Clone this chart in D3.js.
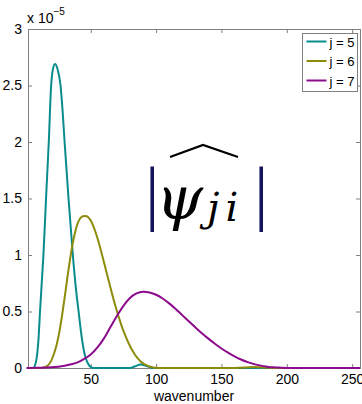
<!DOCTYPE html>
<html>
<head>
<meta charset="utf-8">
<script src="https://cdn.jsdelivr.net/npm/d3@7"></script>
<style>
  body { margin: 0; background: #fff; }
  svg { display: block; }
</style>
</head>
<body>
<div id="container"></div>
<script>
// wavenumber / value pairs (values in units of 1e-5)
const j5X = [1, 6, 8, 10, 11.2, 12.5, 13.8, 15.8, 17.9, 19.7, 21, 22.7, 24.5, 26.9, 28.5, 30, 33, 36.3, 38.5, 40.7, 43, 45, 47, 49, 52, 80, 84, 88, 92, 96, 100, 256];
const j5Y = [0, 0, 0.05, 0.25, 0.5, 0.75, 1.0, 1.5, 2.0, 2.5, 2.64, 2.69, 2.65, 2.5, 2.27, 2.0, 1.5, 1.0, 0.72, 0.5, 0.28, 0.14, 0.06, 0.02, 0, 0, 0.015, 0.03, 0.02, 0.005, 0, 0];

const j6X = [1, 10, 14, 17, 20, 22, 24, 26, 28, 30, 32, 34, 36, 38, 40, 42, 44, 46, 48, 50, 52, 54, 56, 58, 60, 62, 64, 66, 68, 70, 72, 74, 76, 78, 80, 82, 84, 86, 88, 90, 92, 94, 96, 98, 100, 104, 160, 175, 190, 256];
const j6Y = [0, 0, 0.005, 0.02, 0.07, 0.13, 0.21, 0.32, 0.46, 0.62, 0.79, 0.95, 1.09, 1.2, 1.28, 1.325, 1.343, 1.345, 1.335, 1.305, 1.255, 1.19, 1.115, 1.03, 0.94, 0.85, 0.76, 0.67, 0.585, 0.505, 0.43, 0.36, 0.3, 0.245, 0.195, 0.152, 0.115, 0.085, 0.06, 0.041, 0.027, 0.017, 0.01, 0.005, 0.002, 0, 0, 0.008, 0, 0];

const j7X = [1, 10, 20, 30, 35, 40, 45, 50, 55, 60, 65, 70, 75, 80, 85, 90, 95, 100, 105, 110, 115, 120, 125, 130, 135, 140, 145, 150, 155, 160, 165, 170, 175, 180, 185, 190, 195, 200, 256];
const j7Y = [0, 0.002, 0.006, 0.02, 0.033, 0.05, 0.08, 0.12, 0.18, 0.26, 0.36, 0.46, 0.55, 0.62, 0.66, 0.675, 0.668, 0.648, 0.615, 0.572, 0.522, 0.468, 0.414, 0.36, 0.308, 0.26, 0.215, 0.173, 0.136, 0.103, 0.075, 0.052, 0.034, 0.021, 0.012, 0.006, 0.003, 0.001, 0];

const seriesNames = ["j = 5", "j = 6", "j = 7"];
const seriesColors = ["#0a8c8c", "#8c8c0a", "#8c0a8c"];
const xTicks = [50, 100, 150, 200, 250];
const yTicks = [0, 0.5, 1, 1.5, 2, 2.5, 3];

const W = 362, H = 404;
const margin = { left: 28, right: 2, top: 29, bottom: 36 };

const x = d3.scaleLinear().domain([2, 256]).range([margin.left, W - margin.right]);
const y = d3.scaleLinear().domain([0, 3]).range([H - margin.bottom, margin.top]);

const svg = d3.select("#container").append("svg")
    .attr("width", W)
    .attr("height", H)
    .style("font-family", "'Liberation Sans', Arial, sans-serif");

const axisColor = "#808080";
const tickLen = 4;

// bottom axis, ticks pointing inward
const gx = svg.append("g")
    .attr("transform", `translate(0,${y(0)})`)
    .call(d3.axisBottom(x).tickValues(xTicks).tickSize(-tickLen).tickPadding(6));
// left axis
const gy = svg.append("g")
    .attr("transform", `translate(${x.range()[0]},0)`)
    .call(d3.axisLeft(y).tickValues(yTicks).tickSize(-tickLen).tickPadding(6)
        .tickFormat(d => d === 0 ? "0" : d3.format("")(d)));
// top and right mirrors
const gt = svg.append("g")
    .attr("transform", `translate(0,${y(3)})`)
    .call(d3.axisTop(x).tickValues(xTicks).tickSize(-tickLen).tickFormat(""));
const gr = svg.append("g")
    .attr("transform", `translate(${x.range()[1]},0)`)
    .call(d3.axisRight(y).tickValues(yTicks).tickSize(-tickLen).tickFormat(""));

[gx, gy, gt, gr].forEach(g => {
  g.select(".domain").attr("stroke", axisColor);
  g.selectAll(".tick line").attr("stroke", axisColor);
  g.selectAll(".tick text").attr("fill", "#000").attr("font-size", 14)
   .attr("font-family", "'Liberation Sans', Arial, sans-serif");
});

// exponent label
const expo = svg.append("text")
    .attr("x", 27).attr("y", 23)
    .attr("font-size", 14)
    .text("x 10");
expo.append("tspan").attr("dy", -8).attr("font-size", 10).text("\u22125");

// x label
svg.append("text")
    .attr("x", (x.range()[0] + x.range()[1]) / 2)
    .attr("y", 401)
    .attr("text-anchor", "middle")
    .attr("font-size", 14)
    .text("wavenumber");

// curves
const line = d3.line()
    .x(d => x(d[0]))
    .y(d => y(d[1]))
    .curve(d3.curveMonotoneX);

const series = [
  d3.zip(j5X, j5Y),
  d3.zip(j6X, j6Y),
  d3.zip(j7X, j7Y)
];

svg.append("g")
  .selectAll("path")
  .data(series)
  .join("path")
    .attr("d", line)
    .attr("fill", "none")
    .attr("stroke", (d, i) => seriesColors[i])
    .attr("stroke-width", 2);

// formula |psi_ji| with hat
const f = svg.append("g");
f.append("text").attr("x", 145).attr("y", 217).attr("font-size", 72)
    .attr("font-family", "'Liberation Serif', serif")
    .attr("fill", "#14145e").text("|");
f.append("text").attr("x", 254).attr("y", 217).attr("font-size", 72)
    .attr("font-family", "'Liberation Serif', serif")
    .attr("fill", "#14145e").text("|");
f.append("text").attr("x", 156).attr("y", 219).attr("font-size", 60)
    .attr("font-family", "'DejaVu Serif', serif")
    .attr("font-style", "italic").text("\u03C8");
f.append("text").attr("x", 207).attr("y", 221).attr("font-size", 40)
    .attr("font-family", "'DejaVu Serif', serif")
    .attr("font-style", "italic")
    .attr("letter-spacing", 6)
    .text("ji");
f.append("path")
    .attr("d", "M170,157 L203,145 L238,157")
    .attr("fill", "none")
    .attr("stroke", "#000")
    .attr("stroke-width", 2.2);

// legend
const lg = svg.append("g").attr("transform", "translate(302.5,33.5)");
lg.append("rect")
    .attr("width", 55).attr("height", 58)
    .attr("fill", "#fff")
    .attr("stroke", axisColor)
    .attr("stroke-width", 1);
const items = lg.selectAll(".item")
  .data(seriesNames)
  .join("g")
    .attr("class", "item")
    .attr("transform", (d, i) => `translate(0,${8 + i * 19.5})`);
items.append("line")
    .attr("x1", 4).attr("x2", 24)
    .attr("stroke", (d, i) => seriesColors[i])
    .attr("stroke-width", 2);
items.append("text")
    .attr("x", 27).attr("y", 5)
    .attr("font-size", 13)
    .text(d => d);
</script>
</body>
</html>
